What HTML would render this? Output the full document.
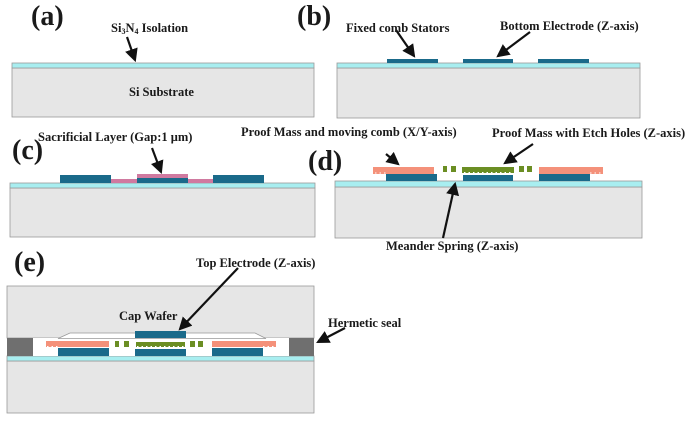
<!DOCTYPE html>
<html><head><meta charset="utf-8"><style>
html,body{margin:0;padding:0;background:#fff;}
svg{display:block;}
text{font-family:"Liberation Serif",serif;font-weight:bold;fill:#1a1a1a;}
.l{font-size:12.5px;}
.p{font-size:28px;}
</style></head><body>
<svg width="700" height="427" viewBox="0 0 700 427" xmlns="http://www.w3.org/2000/svg">
<defs><marker id="ah" markerWidth="6" markerHeight="6" refX="5" refY="3" orient="auto" markerUnits="strokeWidth"><path d="M0,0 L6,3 L0,6 z" fill="#111"/></marker></defs>
<g stroke="#999" stroke-width="0.8">
<rect x="12" y="68" width="302" height="49" fill="#e6e6e6"/>
<rect x="12" y="63" width="302" height="5" fill="#a8eef0"/>
<rect x="337" y="68" width="303" height="50" fill="#e6e6e6"/>
<rect x="337" y="63" width="303" height="5" fill="#a8eef0"/>
<rect x="10" y="188" width="305" height="49" fill="#e6e6e6"/>
<rect x="10" y="183" width="305" height="5" fill="#a8eef0"/>
<rect x="335" y="187" width="307" height="51" fill="#e6e6e6"/>
<rect x="335" y="181" width="307" height="6" fill="#a8eef0"/>
<rect x="7" y="361" width="307" height="52" fill="#e6e6e6"/>
<rect x="7" y="286" width="307" height="52" fill="#e6e6e6"/>
<rect x="7" y="356" width="307" height="5" fill="#a8eef0"/>
</g>
<g fill="#1a6a8a">
<rect x="387" y="59" width="51" height="4"/><rect x="463" y="59" width="50" height="4"/><rect x="538" y="59" width="51" height="4"/>
</g>
<rect x="111" y="179" width="26" height="4" fill="#d07aa0"/><rect x="188" y="179" width="25" height="4" fill="#d07aa0"/>
<rect x="137" y="174" width="51" height="4" fill="#d07aa0"/>
<g fill="#1a6a8a"><rect x="60" y="175" width="51" height="8"/><rect x="137" y="178" width="51" height="5"/><rect x="213" y="175" width="51" height="8"/></g>
<!-- d -->
<g fill="#1a6a8a"><rect x="386" y="174" width="51" height="7"/><rect x="463" y="175" width="50" height="6"/><rect x="539" y="174" width="51" height="7"/></g>
<g fill="#f4917a"><rect x="373" y="167" width="61" height="7"/><rect x="539" y="167" width="64" height="7"/></g>
<g fill="#6b8e23"><rect x="462" y="167" width="52" height="6"/><rect x="443" y="166" width="4" height="6"/><rect x="451" y="166" width="5" height="6"/><rect x="519" y="166" width="5" height="6"/><rect x="527" y="166" width="5" height="6"/></g>
<g stroke="#fff" stroke-width="1" stroke-dasharray="1.5 3"><line x1="375" y1="173" x2="386" y2="173"/><line x1="590" y1="173" x2="603" y2="173"/><line x1="464" y1="172.5" x2="513" y2="172.5"/></g>
<!-- e -->
<rect x="7" y="338" width="26" height="18" fill="#6f6f6f"/><rect x="289" y="338" width="25" height="18" fill="#6f6f6f"/>
<rect x="33" y="338" width="256" height="18" fill="#fff"/>
<path d="M58,338.5 L70,333 L255,333 L266,338.5 Z" fill="#fff" stroke="#999" stroke-width="0.8"/>
<rect x="135" y="331" width="51" height="7" fill="#1a6a8a"/>
<g fill="#1a6a8a"><rect x="58" y="348" width="51" height="8"/><rect x="135" y="349" width="51" height="7"/><rect x="212" y="348" width="51" height="8"/></g>
<g fill="#f4917a"><rect x="46" y="341" width="63" height="6"/><rect x="212" y="341" width="64" height="6"/></g>
<g fill="#6b8e23"><rect x="136" y="342" width="49" height="5"/><rect x="115" y="341" width="4" height="6"/><rect x="124" y="341" width="5" height="6"/><rect x="190" y="341" width="5" height="6"/><rect x="198" y="341" width="5" height="6"/></g>
<g stroke="#fff" stroke-width="1" stroke-dasharray="1.5 3"><line x1="47" y1="346.5" x2="58" y2="346.5"/><line x1="263" y1="346.5" x2="276" y2="346.5"/><line x1="137" y1="346.5" x2="185" y2="346.5"/></g>
<g stroke="#111" stroke-width="2.2" marker-end="url(#ah)" fill="none">
<line x1="127" y1="37" x2="135" y2="60"/>
<line x1="396" y1="30" x2="414" y2="56"/>
<line x1="530" y1="32" x2="498" y2="56"/>
<line x1="152" y1="148" x2="161" y2="172"/>
<line x1="386" y1="154" x2="398" y2="164"/>
<line x1="533" y1="144" x2="505" y2="163"/>
<line x1="443" y1="238" x2="455" y2="184"/>
<line x1="238" y1="268" x2="180" y2="329"/>
<line x1="345" y1="328" x2="318" y2="342"/>
</g>
<text class="p" x="31" y="25">(a)</text>
<text class="p" x="297" y="25">(b)</text>
<text class="p" x="12" y="159">(c)</text>
<text class="p" x="308" y="170">(d)</text>
<text class="p" x="14" y="271">(e)</text>
<text class="l" x="111" y="32">Si<tspan font-size="8" dy="2">3</tspan><tspan dy="-2">N</tspan><tspan font-size="8" dy="2">4</tspan><tspan dy="-2"> Isolation</tspan></text>
<text class="l" x="129" y="96">Si Substrate</text>
<text class="l" x="346" y="32">Fixed comb Stators</text>
<text class="l" x="500" y="30">Bottom Electrode (Z-axis)</text>
<text class="l" x="38" y="141">Sacrificial Layer (Gap:1 μm)</text>
<text class="l" x="241" y="136">Proof Mass and moving comb (X/Y-axis)</text>
<text class="l" x="492" y="137">Proof Mass with Etch Holes (Z-axis)</text>
<text class="l" x="386" y="250">Meander Spring (Z-axis)</text>
<text class="l" x="196" y="267">Top Electrode (Z-axis)</text>
<text class="l" x="119" y="320">Cap Wafer</text>
<text class="l" x="328" y="327">Hermetic seal</text>
</svg>
</body></html>
